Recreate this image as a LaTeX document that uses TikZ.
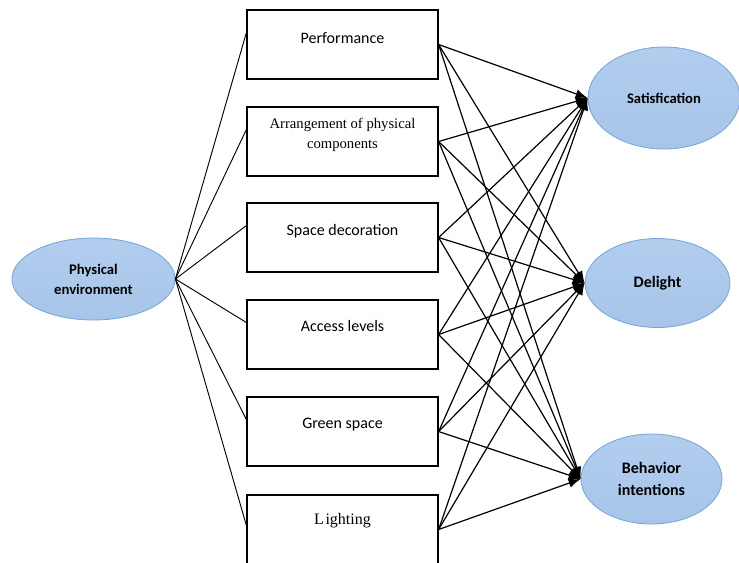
\documentclass[tikz,border=0pt]{standalone}
\usepackage{fontspec}
\setmainfont{Carlito}
\newfontfamily\boxserif{Liberation Serif}
\usepackage{tikz}
\usetikzlibrary{arrows.meta}
\usetikzlibrary{shapes.geometric}

\definecolor{ellfill}{RGB}{167,197,233}
\definecolor{elltop}{RGB}{178,205,238}
\definecolor{elldraw}{RGB}{118,164,216}

\tikzset{
factorbox/.style={draw, line width=0.9pt, minimum width=143.25pt, minimum height=51.75pt, inner sep=0pt},
factortext/.style={font=\fontsize{12}{14}\selectfont, align=center, inner sep=0pt},
outcome/.style={ellipse, draw=elldraw, line width=0.6pt, top color=elltop, bottom color=ellfill, inner sep=0pt, align=center, font=\fontsize{11}{15}\selectfont\bfseries},
link/.style={line width=0.7pt},
arrowlink/.style={line width=0.9pt, -{Latex[length=9pt,width=7pt]}}}

\begin{document}
\begin{tikzpicture}[x=0.75pt,y=-0.75pt]

                \useasboundingbox (0,0) rectangle (739,562);

                \node[outcome, minimum width=114pt, minimum height=76.5pt] (satis) at (664,98) {Satisfication};
                \node[outcome, minimum width=108.75pt, minimum height=66.75pt, font=\fontsize{12}{16}\selectfont\bfseries] (delight) at (657.5,283) {Delight};
                \node[outcome, minimum width=105.75pt, minimum height=67.5pt, font=\fontsize{12}{16.5}\selectfont\bfseries] (behav) at (651.5,479) {Behavior\\intentions};
                \node[outcome, minimum width=122.25pt, minimum height=61.5pt] (phys) at (93.5,279) {Physical\\environment};

                \node[factorbox] (perf) at (342.5,44.5) {};
                \node[factorbox] (arrange) at (342.5,141.5) {};
                \node[factorbox] (space) at (342.5,237.5) {};
                \node[factorbox] (access) at (342.5,334.5) {};
                \node[factorbox] (green) at (342.5,431.5) {};
                \node[factorbox] (light) at (342.5,529.5) {};

                \node[factortext] (perftext) at (342.5,38) {Performance};
                \node[factortext, font=\boxserif\fontsize{11}{15}\selectfont] (arrangetext) at (342.5,135) {Arrangement of physical\\components};
                \node[factortext] (spacetext) at (342.5,231) {Space decoration};
                \node[factortext] (accesstext) at (342.5,326) {Access levels};
                \node[factortext] (greentext) at (342.5,425) {Green space};
                \node[factortext, font=\boxserif\fontsize{12}{14}\selectfont] (lighttext) at (342.5,521) {L\kern1.2pt ighting};

                \draw[link] (phys.east) -- ([yshift=9pt]perf.west);
                \draw[link] (phys.east) -- ([yshift=9pt]arrange.west);
                \draw[link] (phys.east) -- ([yshift=9pt]space.west);
                \draw[link] (phys.east) -- ([yshift=9pt]access.west);
                \draw[link] (phys.east) -- ([yshift=9pt]green.west);
                \draw[link] (phys.east) -- ([yshift=3pt]light.west);

                \draw[arrowlink] (perf.east) -- (satis.west);
                \draw[arrowlink] (perf.east) -- (delight.west);
                \draw[arrowlink] (perf.east) -- (behav.west);
                \draw[arrowlink] (arrange.east) -- (satis.west);
                \draw[arrowlink] (arrange.east) -- (delight.west);
                \draw[arrowlink] (arrange.east) -- (behav.west);
                \draw[arrowlink] (space.east) -- (satis.west);
                \draw[arrowlink] (space.east) -- (delight.west);
                \draw[arrowlink] (space.east) -- (behav.west);
                \draw[arrowlink] (access.east) -- (satis.west);
                \draw[arrowlink] (access.east) -- (delight.west);
                \draw[arrowlink] (access.east) -- (behav.west);
                \draw[arrowlink] (green.east) -- (satis.west);
                \draw[arrowlink] (green.east) -- (delight.west);
                \draw[arrowlink] (green.east) -- (behav.west);
                \draw[arrowlink] (light.east) -- (satis.west);
                \draw[arrowlink] (light.east) -- (delight.west);
                \draw[arrowlink] (light.east) -- (behav.west);

            \end{tikzpicture}
\end{document}
